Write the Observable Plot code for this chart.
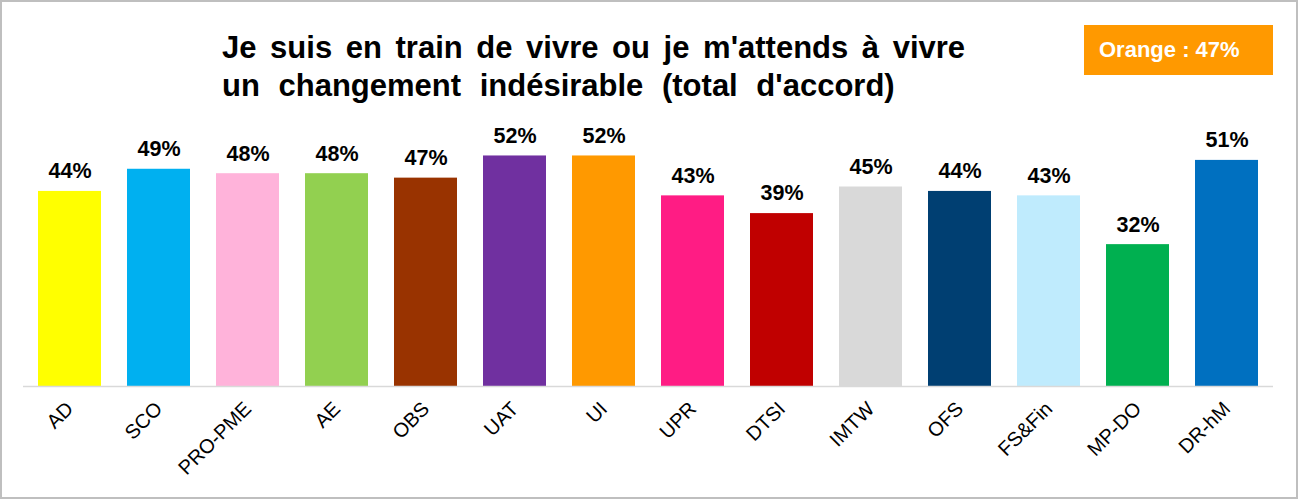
<!DOCTYPE html>
<html>
<head>
<meta charset="utf-8">
<script src="https://cdn.jsdelivr.net/npm/d3@7"></script>
<script src="https://cdn.jsdelivr.net/npm/@observablehq/plot@0.6"></script>
<style>
  html, body { margin: 0; padding: 0; background: #fff; }
  #frame {
    position: relative; width: 1298px; height: 499px; box-sizing: border-box;
    border: 2px solid #bfbfbf; background: #fff; overflow: hidden;
    font-family: "Liberation Sans", Arial, sans-serif;
  }
  #title {
    position: absolute; left: 220px; top: 27px; margin: 0;
    font-size: 31px; font-weight: bold; line-height: 38px; color: #000;
  }
  #title .l1 { word-spacing: 5px; }
  #title .l2 { word-spacing: 10px; }
  #badge {
    position: absolute; left: 1082px; top: 23px; width: 189px; height: 50px;
    background: #FF9900; color: #fff; font-weight: bold; font-size: 22px;
    line-height: 50px; box-sizing: border-box; padding-left: 15px;
  }
  #chart { position: absolute; left: 0; top: 0; }
</style>
</head>
<body>
<div id="frame">
  <div id="chart"></div>
  <div id="title"><span class="l1">Je suis en train de vivre ou je m'attends à vivre</span><br><span class="l2">un changement indésirable (total d'accord)</span></div>
  <div id="badge">Orange : 47%</div>
</div>
<script>
const categories = ["AD","SCO","PRO-PME","AE","OBS","UAT","UI","UPR","DTSI","IMTW","OFS","FS&Fin","MP-DO","DR-hM"];
const values = [44,49,48,48,47,52,52,43,39,45,44,43,32,51];
const colors = ["#FFFF00","#00B0F0","#FFB3DA","#92D050","#993300","#7030A0","#FF9900","#FF1C84","#C00000","#D9D9D9","#003F72","#BFEBFD","#00B050","#0070C0"];

const data = categories.map((c, i) => ({cat: c, value: values[i], color: colors[i]}));

const chart = Plot.plot({
  width: 1294,
  height: 495,
  marginLeft: 21,
  marginRight: 23,
  marginTop: 118,
  marginBottom: 111,
  style: {fontFamily: "'Liberation Sans', Arial, sans-serif", background: "transparent"},
  x: {domain: categories, paddingInner: 0.295, paddingOuter: 0.147, label: null},
  y: {domain: [0, 60], axis: null},
  marks: [
    Plot.barY(data, {x: "cat", y: "value", fill: "color"}),
    Plot.ruleY([0], {stroke: "#d9d9d9", strokeWidth: 1.5}),
    Plot.text(data, {x: "cat", y: "value", text: d => d.value + "%", dy: -20, fontSize: 21.5, fontWeight: "bold", fill: "#000"}),
    Plot.axisX({tickSize: 0, tickRotate: -45, tickPadding: 19, fontSize: 20, fill: "#000", label: null, dx: 0})
  ]
});
document.getElementById("chart").appendChild(chart);
</script>
</body>
</html>
